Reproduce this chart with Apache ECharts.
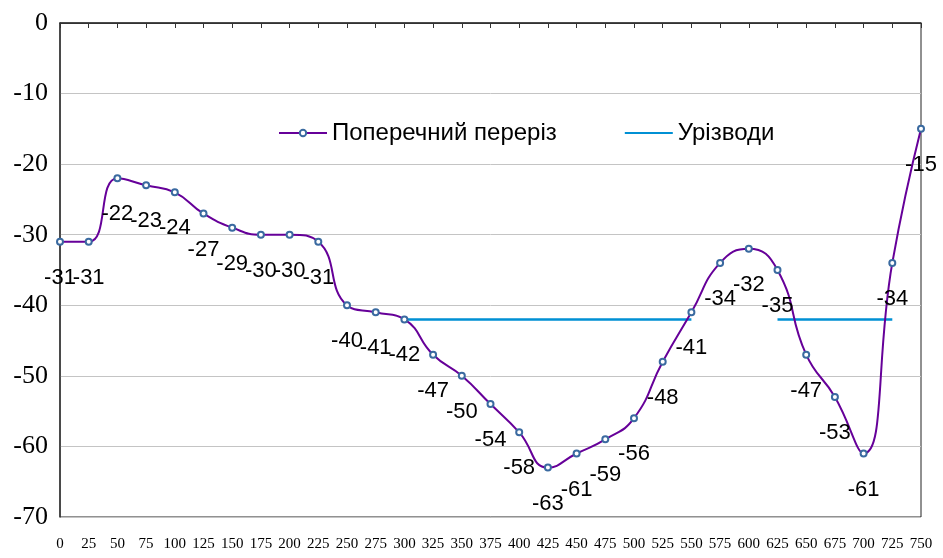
<!DOCTYPE html>
<html>
<head>
<meta charset="utf-8">
<script src="https://cdn.jsdelivr.net/npm/echarts@6/dist/echarts.min.js"></script>
<style>
  html, body { margin: 0; padding: 0; background: #fff; }
  #chart { width: 943px; height: 558px; }
</style>
</head>
<body>
<div id="chart"></div>
<script>
  // відстані по перерізу
  var distances = ['0', '25', '50', '75', '100', '125', '150', '175', '200', '225',
    '250', '275', '300', '325', '350', '375', '400', '425', '450', '475',
    '500', '525', '550', '575', '600', '625', '650', '675', '700', '725', '750'];
  // відмітки дна
  var depths = [-31, -31, -22, -23, -24, -27, -29, -30, -30, -31,
    -40, -41, -42, -47, -50, -54, -58, -63, -61, -59,
    -56, -48, -41, -34, -32, -35, -47, -53, -61, -34, -15];
  // урізи води
  var waterLevel = [null, null, null, null, null, null, null, null, null, null,
    null, null, -42, -42, -42, -42, -42, -42, -42, -42,
    -42, -42, -42, null, null, -42, -42, -42, -42, -42, null];
  var yTicks = [0, -10, -20, -30, -40, -50, -60, -70];

  var narrow = "'Liberation Sans Narrow', 'Arial Narrow', 'Liberation Sans', sans-serif";
  var serif = "'Liberation Serif', 'Times New Roman', serif";

  var myChart = echarts.init(document.getElementById('chart'));
  var option = {
    animation: false,
    backgroundColor: '#fff',
    grid: {
      left: 60, right: 22, top: 23, bottom: 41,
      show: true, borderColor: '#222', borderWidth: 1
    },
    legend: {
      left: 273, top: 116,
      itemWidth: 48, itemHeight: 8, itemGap: 68,
      textStyle: { fontFamily: narrow, fontSize: 24, color: '#000' },
      data: [
        { name: 'Поперечний переріз' },
        // лише лінія, без маркера
        { name: 'Урізводи', icon: 'path://M0,0M0,8M0,3L48,3L48,5L0,5Z' }
      ]
    },
    xAxis: [
      {
        type: 'category', position: 'bottom', boundaryGap: false, data: distances,
        axisLine: { show: true, lineStyle: { color: '#333' } },
        axisTick: { show: false },
        axisLabel: { interval: 0, margin: 20, fontFamily: serif, fontSize: 15, color: '#000' },
        splitLine: { show: false }
      },
      {
        type: 'category', position: 'top', boundaryGap: false, data: distances,
        axisLine: { show: true, onZero: false, lineStyle: { color: '#333', width: 1.5 } },
        axisTick: { show: true, inside: true, length: 5, interval: 0, lineStyle: { color: '#333' } },
        axisLabel: { show: false },
        splitLine: { show: false }
      }
    ],
    yAxis: {
      type: 'value', min: yTicks[yTicks.length - 1], max: yTicks[0], interval: 10,
      axisLine: { show: true, lineStyle: { color: '#333', width: 1.5 } },
      axisTick: { show: false },
      axisLabel: { margin: 12, fontFamily: serif, fontSize: 26, color: '#000' },
      splitLine: { lineStyle: { color: '#c4c4c4', width: 1 } }
    },
    series: [
      {
        name: 'Поперечний переріз',
        type: 'line',
        smooth: 0.5,
        data: depths,
        symbol: 'emptyCircle',
        symbolSize: 6,
        lineStyle: { color: '#660099', width: 2 },
        itemStyle: { color: '#3a6aa0', borderColor: '#3a6aa0', borderWidth: 2 },
        label: {
          show: true, position: 'bottom', distance: 21,
          fontFamily: narrow, fontSize: 22, color: '#000'
        },
        z: 3
      },
      {
        name: 'Урізводи',
        type: 'line',
        data: waterLevel,
        symbol: 'none',
        showSymbol: false,
        lineStyle: { color: '#0090d4', width: 2.5 },
        itemStyle: { color: '#0090d4' },
        z: 2
      }
    ]
  };
  myChart.setOption(option);
</script>
</body>
</html>
